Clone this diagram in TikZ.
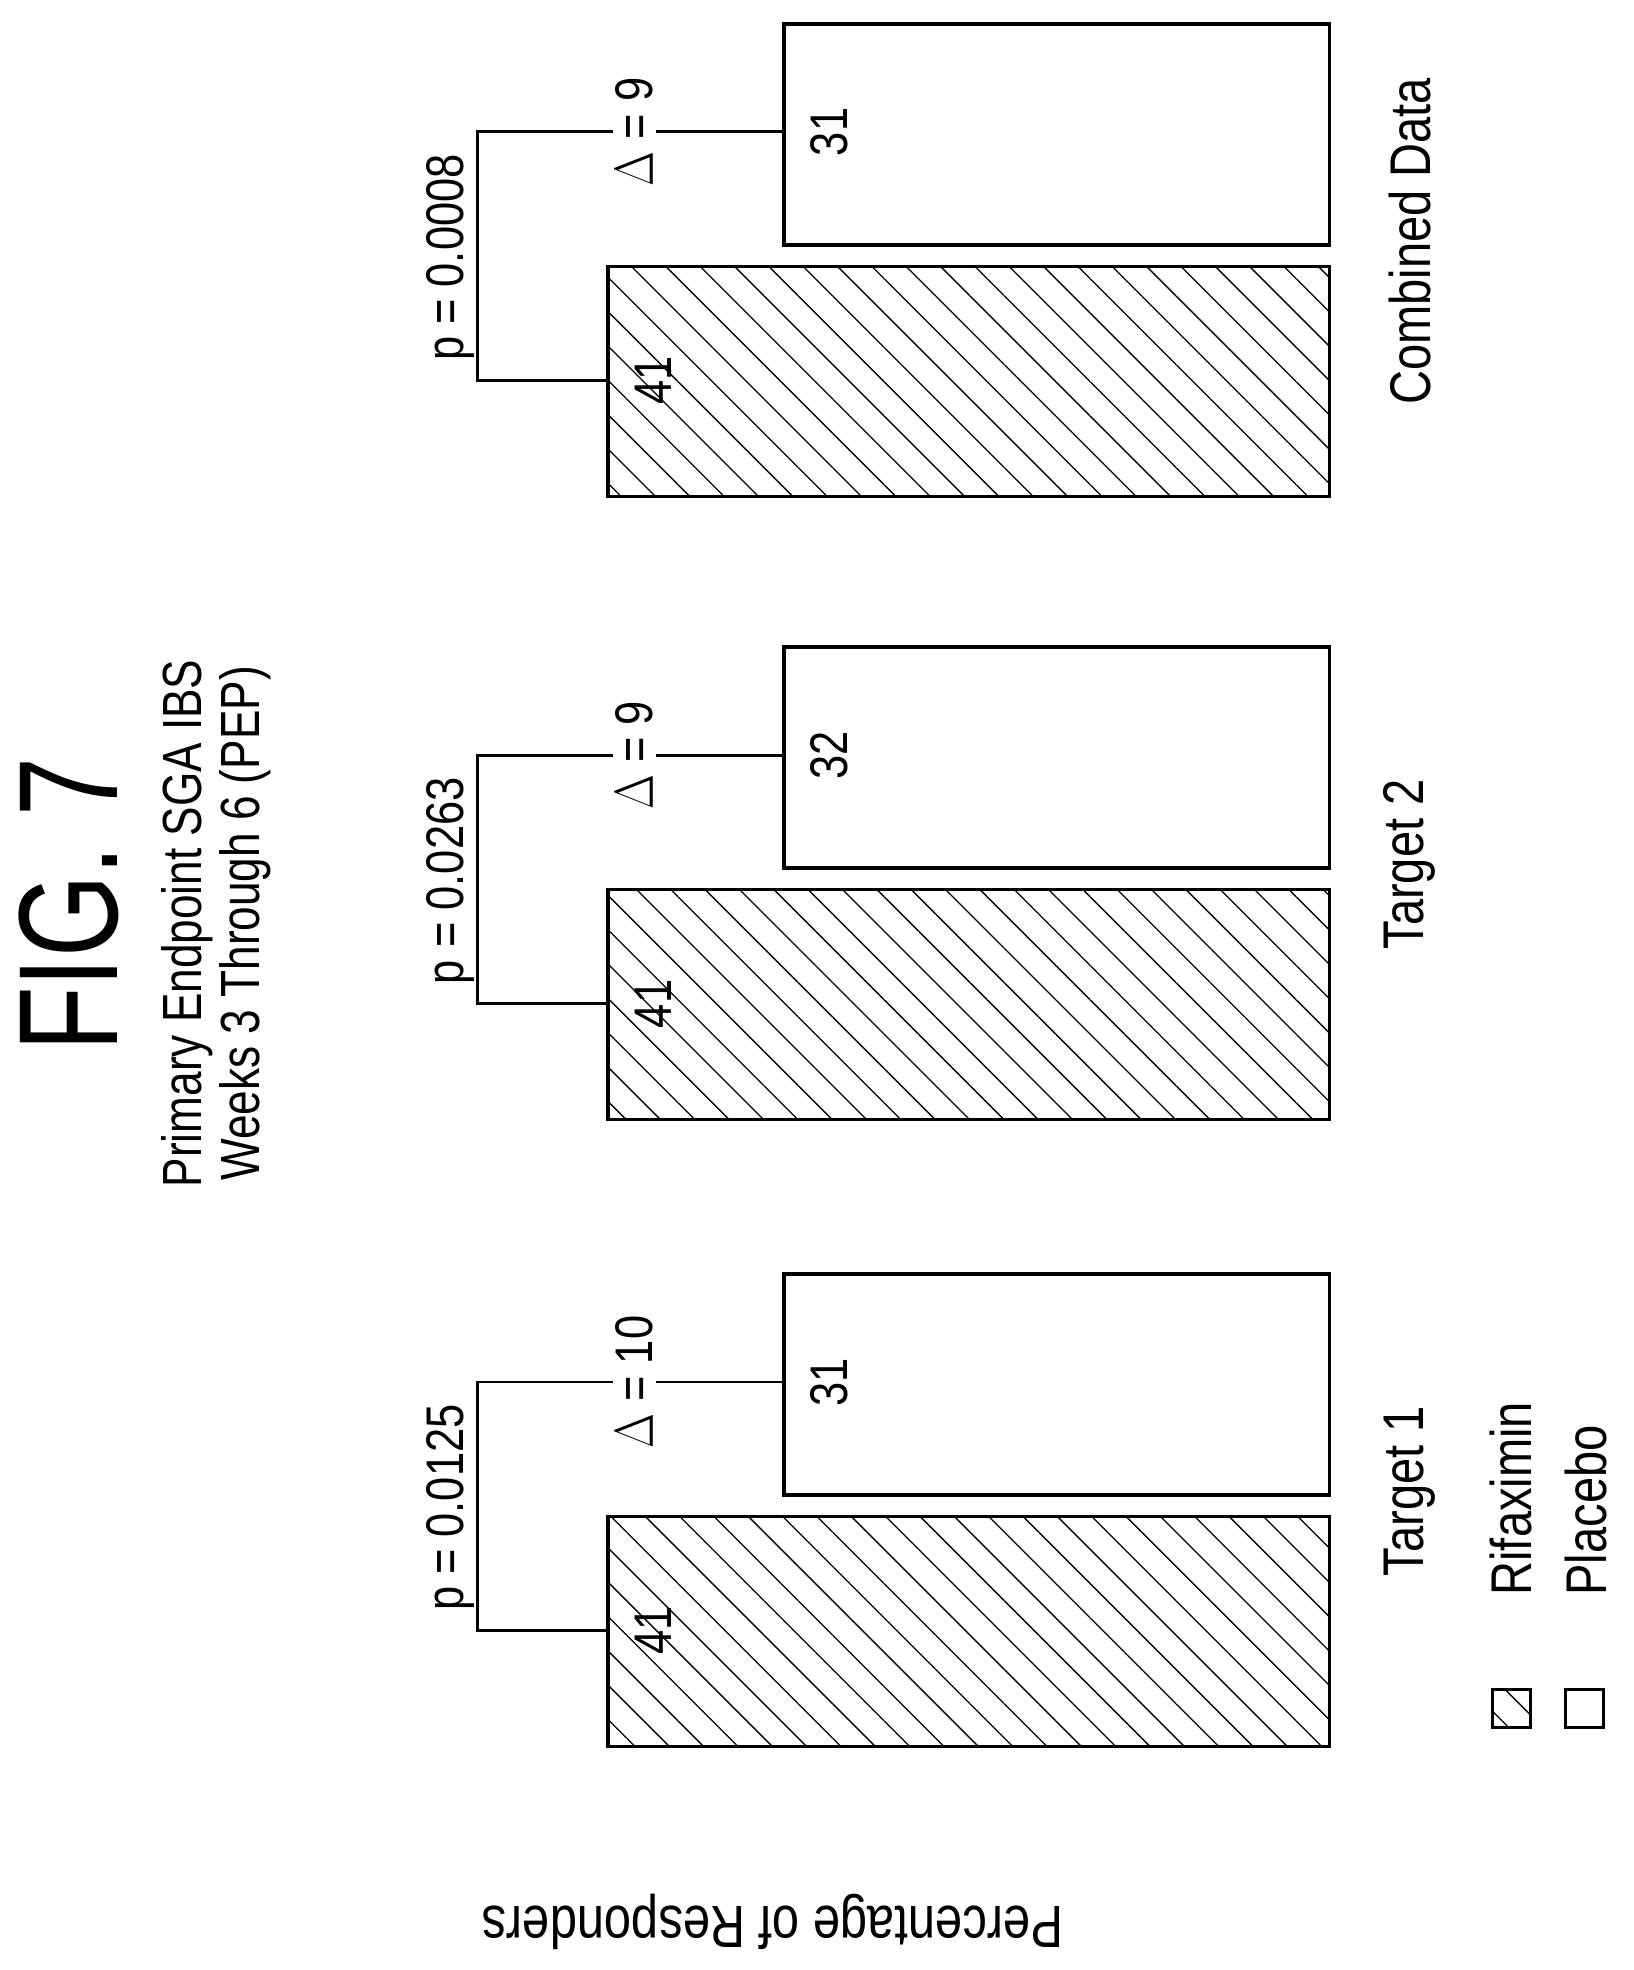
\documentclass[tikz,border=0pt]{standalone}
\usepackage{fontspec}
\setmainfont{Liberation Sans}
\usetikzlibrary{patterns.meta}
\tikzset{
  rifax/.style={draw, line width=1.6pt, pattern={Lines[angle=-45,distance=11pt,line width=0.6pt]}},
  placebo/.style={draw, line width=1.6pt, fill=white},
  lbl/.style={rotate=90, font=\fontsize{24}{26}\selectfont, inner sep=1pt},
  bracket/.style={line width=1.3pt}
}
\newcommand\nar[1]{\scalebox{0.82}[1]{#1}}
% bar pair: #1 = top of hatched bar, #2 = placebo value, #3 = p, #4 = delta, #5 = group label, #6 = name
\newcommand\bargroup[6]{
  \draw[rifax] (484,#1) rectangle (1058,#1+183);
  \draw[placebo] (624,#1-193) rectangle (1058,#1-17);
  \coordinate (#6r) at (484,#1+91);
  \coordinate (#6p) at (624,#1-107);
  \node[lbl] (#6rv) at (520,#1+91) {\nar{41}};
  \node[lbl] (#6pv) at (660,#1-107) {\nar{#2}};
  \draw[bracket] (#6r) -- (380,#1+91) -- (380,#1-107) -- (#6p);
  \node[lbl, fill=white, inner xsep=8pt] (#6d) at (505,#1-107) {\nar{$\Delta$ = #4}};
  \node[lbl, anchor=south] (#6pl) at (380,#1-7) {\nar{p = #3}};
  \node[lbl, font=\fontsize{26}{28}\selectfont] (#6lab) at (1122,#1-20) {\nar{#5}};
}
\begin{document}
\begin{tikzpicture}[x=0.02cm, y=-0.02cm]
\useasboundingbox (0,0) rectangle (1300,1568);

% title
\node[lbl, font=\fontsize{64}{66}\selectfont] (fig) at (55,720) {\scalebox{0.75}[1]{FIG. 7}};
\node[lbl, font=\fontsize{25}{30}\selectfont] (title) at (172,735)
  {\scalebox{0.8}[1]{\shortstack{Primary Endpoint SGA IBS\\Weeks 3 Through 6 (PEP)}}};

% bars
\bargroup{1207}{31}{0.0125}{10}{Target 1}{ta}
\bargroup{708}{32}{0.0263}{9}{Target 2}{tb}
\bargroup{212}{31}{0.0008}{9}{Combined Data}{cd}

% axis label
\node[rotate=180, font=\fontsize{27}{29}\selectfont] (ylab) at (615,1530) {\nar{Percentage of Responders}};

% legend
\draw[rifax, line width=1.3pt] (1188,1345) rectangle (1218,1375);
\draw[placebo, line width=1.3pt] (1246,1345) rectangle (1276,1375);
\node[lbl, anchor=west, font=\fontsize{26}{28}\selectfont] (legr) at (1203,1272) {\nar{Rifaximin}};
\node[lbl, anchor=west, font=\fontsize{26}{28}\selectfont] (legp) at (1262,1272) {\nar{Placebo}};
\end{tikzpicture}
\end{document}
